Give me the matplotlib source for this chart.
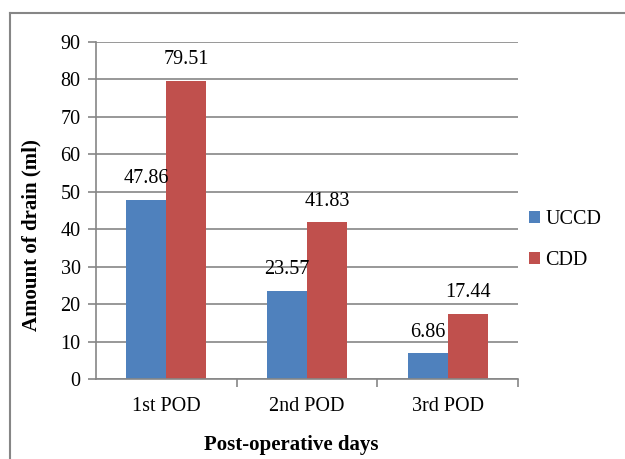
"""Drain amount by post-operative day, grouped bars."""
import matplotlib
matplotlib.use("Agg")
import matplotlib.pyplot as plt
import numpy as np
from matplotlib.lines import Line2D

days = ["1st POD", "2nd POD", "3rd POD"]
uccd = [47.86, 23.57, 6.86]
cdd = [79.51, 41.83, 17.44]
yticks = [0, 10, 20, 30, 40, 50, 60, 70, 80, 90]

plt.rcParams["font.family"] = ["Liberation Serif", "DejaVu Serif"]
grey = "#868686"
fs = 14.5   # regular text
fs_b = 15   # bold axis titles

fig = plt.figure(figsize=(6.25, 4.59), dpi=100)
ax = fig.add_axes([96 / 625, 1 - 379 / 459, 422 / 625, 337 / 459])

x = np.arange(len(days))
w = 0.284
b1 = ax.bar(x - w / 2, uccd, w, color="#4f81bd", label="UCCD")
b2 = ax.bar(x + w / 2, cdd, w, color="#c0504d", label="CDD")

# value labels above each bar
for bars, vals in ((b1, uccd), (b2, cdd)):
    for rect, v in zip(bars, vals):
        ax.annotate(f"{v:.2f}", (rect.get_x() + rect.get_width() / 2, v),
                    xytext=(0, 8.5), textcoords="offset points",
                    ha="center", va="bottom", fontsize=fs)

ax.set_xlim(-0.5, 2.5)
ax.set_ylim(0, 90)
ax.set_yticks(yticks)
ax.yaxis.grid(True, color=grey, linewidth=1.2)
ax.set_axisbelow(True)

ax.set_xticks(x)
ax.set_xticklabels(days, fontsize=fs)
ax.tick_params(axis="x", length=0, pad=13)
ax.set_xticks([0.5, 1.5, 2.5], minor=True)
ax.tick_params(axis="x", which="minor", length=6, color=grey, width=1.2)
ax.tick_params(axis="y", labelsize=fs, length=6, color=grey, width=1.2, pad=5)

for s in ("top", "right"):
    ax.spines[s].set_visible(False)
for s in ("left", "bottom"):
    ax.spines[s].set_color(grey)
    ax.spines[s].set_linewidth(1.2)

# axis titles sit a bit off-centre in the original
fig.text(31 / 625, 1 - 235 / 459, "Amount of drain (ml)", rotation=90,
         ha="center", va="center", fontsize=fs_b, fontweight="bold")
fig.text(291 / 625, 1 - 445 / 459, "Post-operative days",
         ha="center", va="center", fontsize=fs_b, fontweight="bold")

fig.legend(handles=[b1, b2], loc="center left", bbox_to_anchor=(521 / 625, 1 - 240 / 459),
           frameon=False, fontsize=fs, handlelength=0.55, handleheight=0.55,
           handletextpad=0.25, labelspacing=1.1, borderaxespad=0)

# chart frame (cropped on the right and bottom)
fig.add_artist(Line2D([10 / 625, 1], [1 - 13 / 459, 1 - 13 / 459], color=grey, lw=1.5))
fig.add_artist(Line2D([10 / 625, 10 / 625], [0, 1 - 13 / 459], color=grey, lw=1.5))

fig.savefig("out.png", dpi=100)
